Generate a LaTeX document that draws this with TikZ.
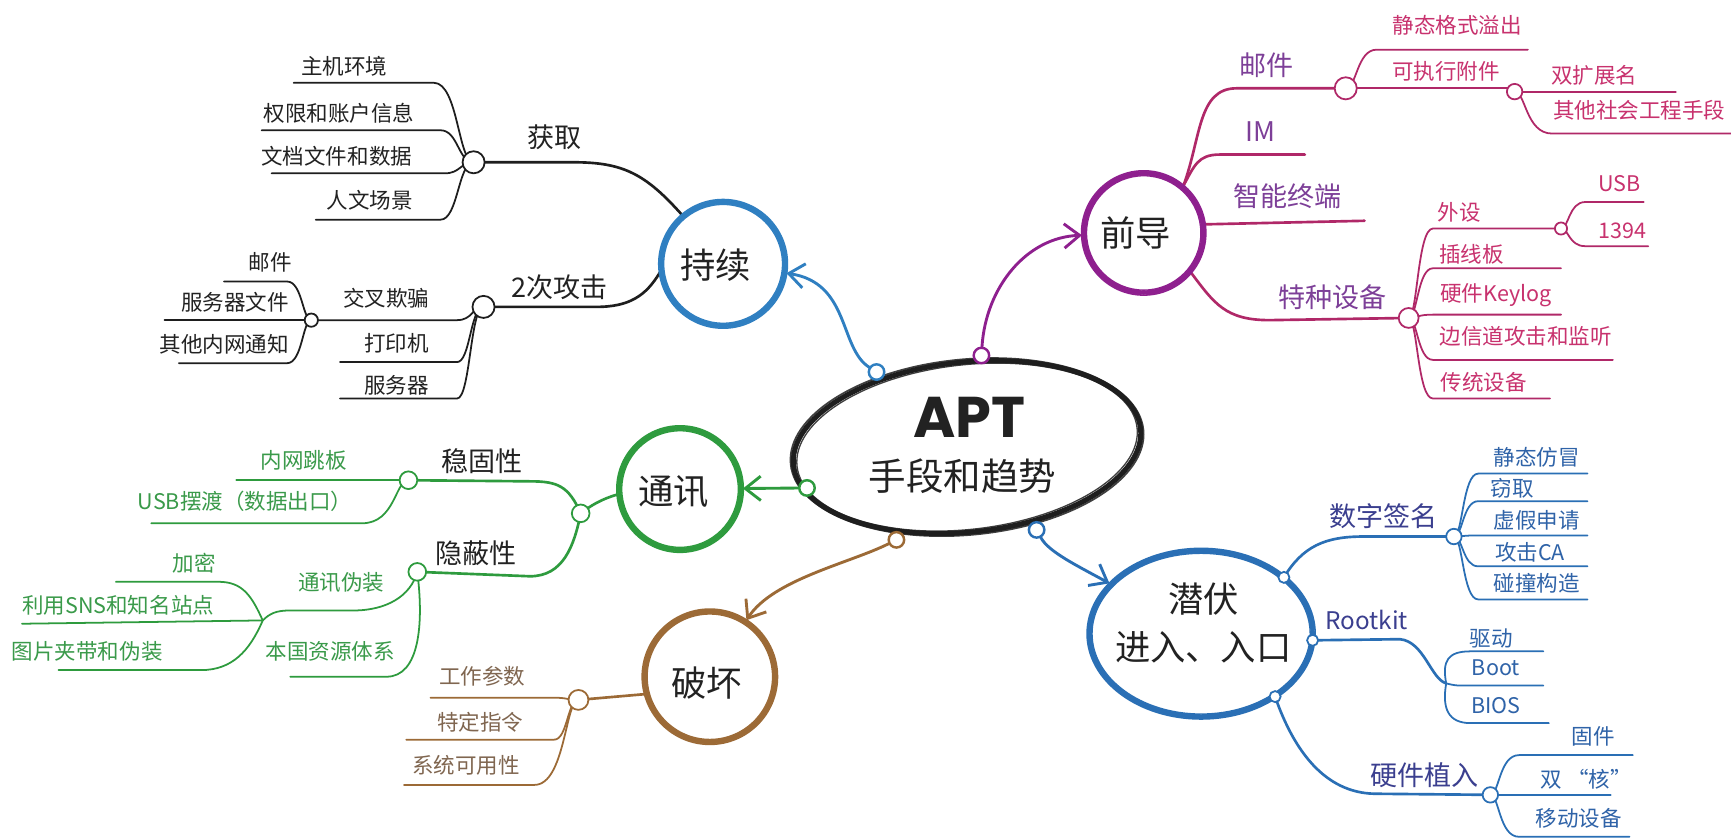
\documentclass[tikz,border=0pt]{standalone}
\usepackage{fontspec}
\setmainfont{Noto Sans CJK SC}
\newfontfamily\aptfont{Poppins}
\usetikzlibrary{shapes.geometric,arrows.meta,calc}
\pgfdeclarelayer{bg}
\pgfsetlayers{bg,main}

\definecolor{ink}{HTML}{222222}
\definecolor{blk}{HTML}{1E1E1E}
\definecolor{cblue}{HTML}{2F7FC1}
\definecolor{cpurp}{HTML}{8E1F8E}
\definecolor{cmag}{HTML}{B02868}
\definecolor{cmagtxt}{HTML}{C8326E}
\definecolor{cpurptxt}{HTML}{7D3F98}
\definecolor{cgreen}{HTML}{2E9B3E}
\definecolor{cgreentxt}{HTML}{3A9A4A}
\definecolor{cbrown}{HTML}{9C6A36}
\definecolor{cbrowntxt}{HTML}{806650}
\definecolor{cdblue}{HTML}{2A6FB5}
\definecolor{cnavy}{HTML}{3B3F8F}
\definecolor{cdbluetxt}{HTML}{2F63A8}

% #1 node, #2 jx, #3 jy, #4 line y, #5 line end x, #6 style, #7 bend dx, #8 start dx
\newcommand\mmL[8]{\draw[#6] (#1.center) .. controls ({#2-#7},#3) and ({#2-#7},#4) .. ({#2-#8},#4) -- (#5,#4);}
\newcommand\mmR[8]{\draw[#6] (#1.center) .. controls ({#2+#7},#3) and ({#2+#7},#4) .. ({#2+#8},#4) -- (#5,#4);}

\tikzset{
  leaf/.style={font=\fontsize{19.5}{22}\selectfont, inner sep=0pt},
  lvtwo/.style={font=\fontsize{24.5}{28}\selectfont, inner sep=0pt},
  mainlbl/.style={font=\fontsize{32}{36}\selectfont, text=ink, inner sep=0pt},
  jn/.style={circle, fill=white, inner sep=0pt, minimum size=#1, line width=1.6pt},
  jn/.default=16,
  arr/.style={-{Straight Barb[length=14pt,width=22pt]}, line width=2.6pt, line cap=round},
  blkL/.style={draw=blk, line width=2.4pt, line cap=round},
  blkl/.style={draw=blk, line width=1.6pt, line cap=round},
  magL/.style={draw=cmag, line width=2.4pt, line cap=round},
  magl/.style={draw=cmag, line width=1.6pt, line cap=round},
  grnL/.style={draw=cgreen, line width=2.4pt, line cap=round},
  grnl/.style={draw=cgreen, line width=1.6pt, line cap=round},
  brnL/.style={draw=cbrown, line width=2.4pt, line cap=round},
  brnl/.style={draw=cbrown, line width=1.6pt, line cap=round},
  bluL/.style={draw=cdblue, line width=2.4pt, line cap=round},
  blul/.style={draw=cdblue, line width=1.6pt, line cap=round},
}

\begin{document}
\begin{tikzpicture}[x=1pt,y=-1pt]
\useasboundingbox (0,0) rectangle (1568,760);

% ---------- centre ----------
\node[draw=blk, line width=4.5pt, ellipse, minimum width=316, minimum height=154, rotate=6] (apt) at (876,405) {};
\draw[blk, line width=1.6pt, opacity=0.85, rotate around={5.5:(apt.center)}] (apt.center) ellipse [x radius=160.5, y radius=79.5];
\draw[blk, line width=1.2pt, opacity=0.85, rotate around={6.5:(apt.center)}] (apt.center) ellipse [x radius=155, y radius=74.5];
\node[font=\aptfont\bfseries\fontsize{52}{56}\selectfont, text=ink, inner sep=0pt, text height=37pt, text depth=0pt] (aptT) at (878,378) {APT};
\node[mainlbl, font=\fontsize{34}{40}\selectfont] (aptS) at (872,431) {手段和趋势};

% ---------- main nodes ----------
\node[circle, draw=cblue, line width=4pt, minimum size=112] (chixu) at (655,239) {};
\draw[cblue, line width=1.4pt] (chixu.center) circle [radius=58.3];
\draw[cblue, line width=1.2pt] (chixu.center) circle [radius=53.8];
\node[mainlbl] (chixuT) at (648,240) {持续};

\node[circle, draw=cpurp, line width=4pt, minimum size=108] (qiandao) at (1036,211) {};
\draw[cpurp, line width=1.4pt] (qiandao.center) circle [radius=56.3];
\draw[cpurp, line width=1.2pt] (qiandao.center) circle [radius=51.8];
\node[mainlbl] (qiandaoT) at (1029,211) {前导};

\node[circle, draw=cgreen, line width=4pt, minimum size=110] (tongxun) at (616,443) {};
\draw[cgreen, line width=1.4pt] (tongxun.center) circle [radius=57.3];
\draw[cgreen, line width=1.2pt] (tongxun.center) circle [radius=52.8];
\node[mainlbl] (tongxunT) at (610,445) {通讯};

\node[circle, draw=cbrown, line width=4pt, minimum size=118] (pohuai) at (643,613) {};
\draw[cbrown, line width=1.4pt] (pohuai.center) circle [radius=61.3];
\draw[cbrown, line width=1.2pt] (pohuai.center) circle [radius=56.8];
\node[mainlbl] (pohuaiT) at (640,619) {破坏};

\node[ellipse, draw=cdblue, line width=4pt, minimum width=202, minimum height=150] (qianfu) at (1088,574) {};
\draw[cdblue, line width=1.4pt] (qianfu.center) ellipse [x radius=103.3, y radius=77.3];
\draw[cdblue, line width=1.2pt] (qianfu.center) ellipse [x radius=98.8, y radius=72.8];
\node[mainlbl] (qianfuT1) at (1090,543) {潜伏};
\node[mainlbl] (qianfuT2) at (1090,586) {进入、入口};

% ---------- small circles on the centre ----------
\node[jn=14, draw=cblue, line width=2.2pt] (e1) at (794,337) {};
\node[jn=14, draw=cpurp, line width=2.2pt] (e2) at (889,322) {};
\node[jn=14, draw=cgreen, line width=2.2pt] (e3) at (731,442) {};
\node[jn=14, draw=cbrown, line width=2.2pt] (e4) at (812,489) {};
\node[jn=14, draw=cdblue, line width=2.2pt] (e5) at (939,480) {};

% ---------- junctions ----------
\node[jn=20, draw=blk] (j1) at (429,147) {};
\node[jn=20, draw=blk] (j2) at (438,278) {};
\node[jn=12, draw=blk] (j3) at (282,290) {};
\node[jn=20, draw=cmag] (j4) at (1219,80) {};
\node[jn=18, draw=cmag] (j5) at (1276,288) {};
\node[jn=14, draw=cmag] (j6) at (1372,83) {};
\node[jn=11, draw=cmag] (j7) at (1414,207) {};
\node[jn=16, draw=cgreen] (j8) at (526,465) {};
\node[jn=16, draw=cgreen] (j9) at (370,435) {};
\node[jn=16, draw=cgreen] (j10) at (378,518) {};
\coordinate (jj) at (238,562);
\node[jn=18, draw=cbrown] (j11) at (524,634) {};
\node[jn=10, draw=cdblue] (s1) at (1163,523) {};
\node[jn=10, draw=cdblue] (s2) at (1189,580) {};
\node[jn=10, draw=cdblue] (s3) at (1155,631) {};
\node[jn=14, draw=cdblue] (j12) at (1317,486) {};
\coordinate (jr) at (1310,619);
\node[jn=14, draw=cdblue] (j13) at (1350,720) {};
\coordinate (imE) at (1182,140);
\coordinate (znE) at (1236,200);

% ---------- arrows ----------
\draw[arr, cblue] (e1) .. controls (760,315) and (770,256) .. (chixu);
\draw[arr, cpurp] (e2) .. controls (893,260) and (930,215) .. (qiandao);
\draw[arr, cgreen] (e3) -- (tongxun);
\draw[arr, cbrown] (e4) .. controls (770,510) and (700,525) .. (pohuai);
\draw[arr, cdblue] (e5) .. controls (950,500) and (975,512) .. (qianfu);

\begin{pgfonlayer}{bg}
\fill[white] (0,0) rectangle (1568,760);
% ----- 持续 -----
\draw[blkL] (chixu.130) .. controls (585,158) and (565,147) .. (520,147) -- (j1.center);
\draw[blkL] (chixu.188) .. controls (585,268) and (570,278) .. (540,278) -- (j2.center);
\mmL{j1}{429}{147}{75}{266}{blkl}{14}{36}
\mmL{j1}{429}{147}{118}{237}{blkl}{14}{30}
\mmL{j1}{429}{147}{157}{246}{blkl}{12}{26}
\mmL{j1}{429}{147}{199}{286}{blkl}{14}{30}
\mmL{j2}{438}{278}{290}{282}{blkl}{10}{24}
\mmL{j2}{438}{278}{328}{308}{blkl}{12}{24}
\mmL{j2}{438}{278}{361}{308}{blkl}{12}{24}
\mmL{j3}{282}{290}{255}{203}{blkl}{8}{22}
\mmL{j3}{282}{290}{290}{149}{blkl}{8}{22}
\mmL{j3}{282}{290}{329}{162}{blkl}{8}{22}
% ----- 前导 -----
\draw[magL] (qiandao.50) .. controls (1088,125) and (1085,80) .. (1120,80) -- (j4.center);
\draw[magL] (qiandao.50) .. controls (1082,150) and (1085,140) .. (1105,140) -- (imE);
\draw[magL] (qiandao.8) -- (znE);
\draw[magL] (qiandao.-40) .. controls (1100,275) and (1110,290) .. (1150,290) -- (j5.center);
\mmR{j4}{1219}{80}{45}{1384}{magl}{10}{28}
\mmR{j4}{1219}{80}{80}{1372}{magl}{8}{20}
\mmR{j6}{1372}{83}{83}{1518}{magl}{8}{20}
\mmR{j6}{1372}{83}{121}{1568}{magl}{10}{34}
\mmR{j5}{1276}{288}{207}{1414}{magl}{8}{22}
\mmR{j5}{1276}{288}{243}{1414}{magl}{8}{22}
\mmR{j5}{1276}{288}{285}{1414}{magl}{8}{22}
\mmR{j5}{1276}{288}{326}{1461}{magl}{8}{22}
\mmR{j5}{1276}{288}{361}{1404}{magl}{8}{22}
\mmR{j7}{1414}{207}{183}{1489}{magl}{7}{22}
\mmR{j7}{1414}{207}{223}{1493}{magl}{7}{22}
% ----- 通讯 -----
\draw[grnL] (tongxun.185) .. controls (545,452) and (535,458) .. (j8.center);
\draw[grnL] (j8.center) .. controls (515,440) and (505,436) .. (480,436) -- (j9.center);
\draw[grnL] (j8.center) .. controls (520,495) and (510,522) .. (480,522) -- (j10.center);
\mmL{j9}{370}{435}{435}{214}{grnl}{10}{20}
\mmL{j9}{370}{435}{474}{137}{grnl}{12}{42}
\draw[grnl] (j10.center) .. controls (372,540) and (350,553) .. (320,553) -- (262,553) .. controls (250,553) and (244,556) .. (jj);
\draw[grnl] (j10.center) .. controls (384,565) and (380,613) .. (350,613) -- (263,613);
\draw[grnl] (jj) .. controls (228,540) and (220,527) .. (198,527) -- (105,527);
\draw[grnl] (jj) -- (20,565);
\draw[grnl] (jj) .. controls (226,590) and (210,607) .. (182,607) -- (53,607);
% ----- 破坏 -----
\draw[brnL] (pohuai.195) -- (j11.center);
\mmL{j11}{524}{634}{632}{390}{brnl}{10}{22}
\mmL{j11}{524}{634}{670}{368}{brnl}{10}{22}
\mmL{j11}{524}{634}{711}{366}{brnl}{12}{40}
% ----- 潜伏 -----
\draw[bluL] (s1.center) .. controls (1180,495) and (1200,486) .. (1235,486) -- (j12.center);
\draw[bluL] (s2.center) -- (1268,579) .. controls (1290,581) and (1296,615) .. (jr);
\draw[bluL] (s3.center) .. controls (1172,680) and (1200,718) .. (1245,719) -- (j13.center);
\mmR{j12}{1317}{486}{429}{1438}{blul}{8}{22}
\mmR{j12}{1317}{486}{454}{1438}{blul}{8}{22}
\mmR{j12}{1317}{486}{485}{1438}{blul}{8}{22}
\mmR{j12}{1317}{486}{513}{1438}{blul}{8}{22}
\mmR{j12}{1317}{486}{543}{1438}{blul}{8}{22}
\draw[blul] (jr) .. controls (1306,598) and (1312,590) .. (1332,590) -- (1398,590);
\draw[blul] (jr) .. controls (1318,621) .. (1330,621) -- (1398,621);
\draw[blul] (jr) .. controls (1306,642) and (1312,655) .. (1332,655) -- (1403,655);
\mmR{j13}{1350}{720}{684}{1479}{blul}{8}{26}
\mmR{j13}{1350}{720}{720}{1459}{blul}{8}{26}
\mmR{j13}{1350}{720}{758}{1476}{blul}{8}{26}
\end{pgfonlayer}

% ---------- labels: 持续 ----------
\node[lvtwo, text=ink] (l1) at (502,124) {获取};
\node[lvtwo, text=ink] (l2) at (507,260) {2次攻击};
\node[leaf, text=ink] (l3) at (312,60) {主机环境};
\node[leaf, text=ink] (l4) at (307,103) {权限和账户信息};
\node[leaf, text=ink] (l5) at (305,142) {文档文件和数据};
\node[leaf, text=ink] (l6) at (335,181) {人文场景};
\node[leaf, text=ink] (l7) at (350,270) {交叉欺骗};
\node[leaf, text=ink] (l8) at (359,311) {打印机};
\node[leaf, text=ink] (l9) at (359,349) {服务器};
\node[leaf, text=ink] (l10) at (245,238) {邮件};
\node[leaf, text=ink] (l11) at (213,274) {服务器文件};
\node[leaf, text=ink] (l12) at (203,312) {其他内网通知};

% ---------- labels: 前导 ----------
\node[lvtwo, text=cpurptxt] (m1) at (1147,59) {邮件};
\node[lvtwo, text=cpurptxt] (m2) at (1142,119) {IM};
\node[lvtwo, text=cpurptxt] (m3) at (1166,178) {智能终端};
\node[lvtwo, text=cpurptxt] (m4) at (1207,269) {特种设备};
\node[leaf, text=cmagtxt] (m5) at (1320,23) {静态格式溢出};
\node[leaf, text=cmagtxt] (m6) at (1310,65) {可执行附件};
\node[leaf, text=cmagtxt] (m7) at (1444,68) {双扩展名};
\node[leaf, text=cmagtxt] (m8) at (1485,100) {其他社会工程手段};
\node[leaf, text=cmagtxt] (m9) at (1322,192) {外设};
\node[leaf, text=cmagtxt] (m10) at (1333,230) {插线板};
\node[leaf, text=cmagtxt] (m11) at (1355,267) {硬件Keylog};
\node[leaf, text=cmagtxt] (m12) at (1382,305) {边信道攻击和监听};
\node[leaf, text=cmagtxt] (m13) at (1344,346) {传统设备};
\node[leaf, text=cmagtxt] (m14) at (1467,166) {USB};
\node[leaf, text=cmagtxt] (m15) at (1470,209) {1394};

% ---------- labels: 通讯 ----------
\node[lvtwo, text=ink] (g1) at (437,418) {稳固性};
\node[lvtwo, text=ink] (g2) at (431,501) {隐蔽性};
\node[leaf, text=cgreentxt] (g3) at (275,417) {内网跳板};
\node[leaf, text=cgreentxt] (g4) at (222,454) {USB摆渡（数据出口）};
\node[leaf, text=cgreentxt] (g5) at (309,528) {通讯伪装};
\node[leaf, text=cgreentxt] (g6) at (299,590) {本国资源体系};
\node[leaf, text=cgreentxt] (g7) at (176,510) {加密};
\node[leaf, text=cgreentxt] (g8) at (107,548) {利用SNS和知名站点};
\node[leaf, text=cgreentxt] (g9) at (79,590) {图片夹带和伪装};

% ---------- labels: 破坏 ----------
\node[leaf, text=cbrowntxt] (b1) at (437,613) {工作参数};
\node[leaf, text=cbrowntxt] (b2) at (435,654) {特定指令};
\node[leaf, text=cbrowntxt] (b3) at (422,693) {系统可用性};

% ---------- labels: 潜伏 ----------
\node[lvtwo, text=cnavy] (q1) at (1253,468) {数字签名};
\node[lvtwo, text=cnavy, font=\fontsize{22}{26}\selectfont] (q2) at (1238,562) {Rootkit};
\node[lvtwo, text=cnavy] (q3) at (1290,702) {硬件植入};
\node[leaf, text=cdbluetxt] (q4) at (1392,414) {静态仿冒};
\node[leaf, text=cdbluetxt] (q5) at (1370,442) {窃取};
\node[leaf, text=cdbluetxt] (q6) at (1392,471) {虚假申请};
\node[leaf, text=cdbluetxt] (q7) at (1386,500) {攻击CA};
\node[leaf, text=cdbluetxt] (q8) at (1392,528) {碰撞构造};
\node[leaf, text=cdbluetxt] (q9) at (1351,578) {驱动};
\node[leaf, text=cdbluetxt] (q10) at (1355,605) {Boot};
\node[leaf, text=cdbluetxt] (q11) at (1355,639) {BIOS};
\node[leaf, text=cdbluetxt] (q12) at (1443,667) {固件};
\node[leaf, text=cdbluetxt] (q13) at (1437,706) {双\ “核”};
\node[leaf, text=cdbluetxt] (q14) at (1430,741) {移动设备};
\end{tikzpicture}
\end{document}
